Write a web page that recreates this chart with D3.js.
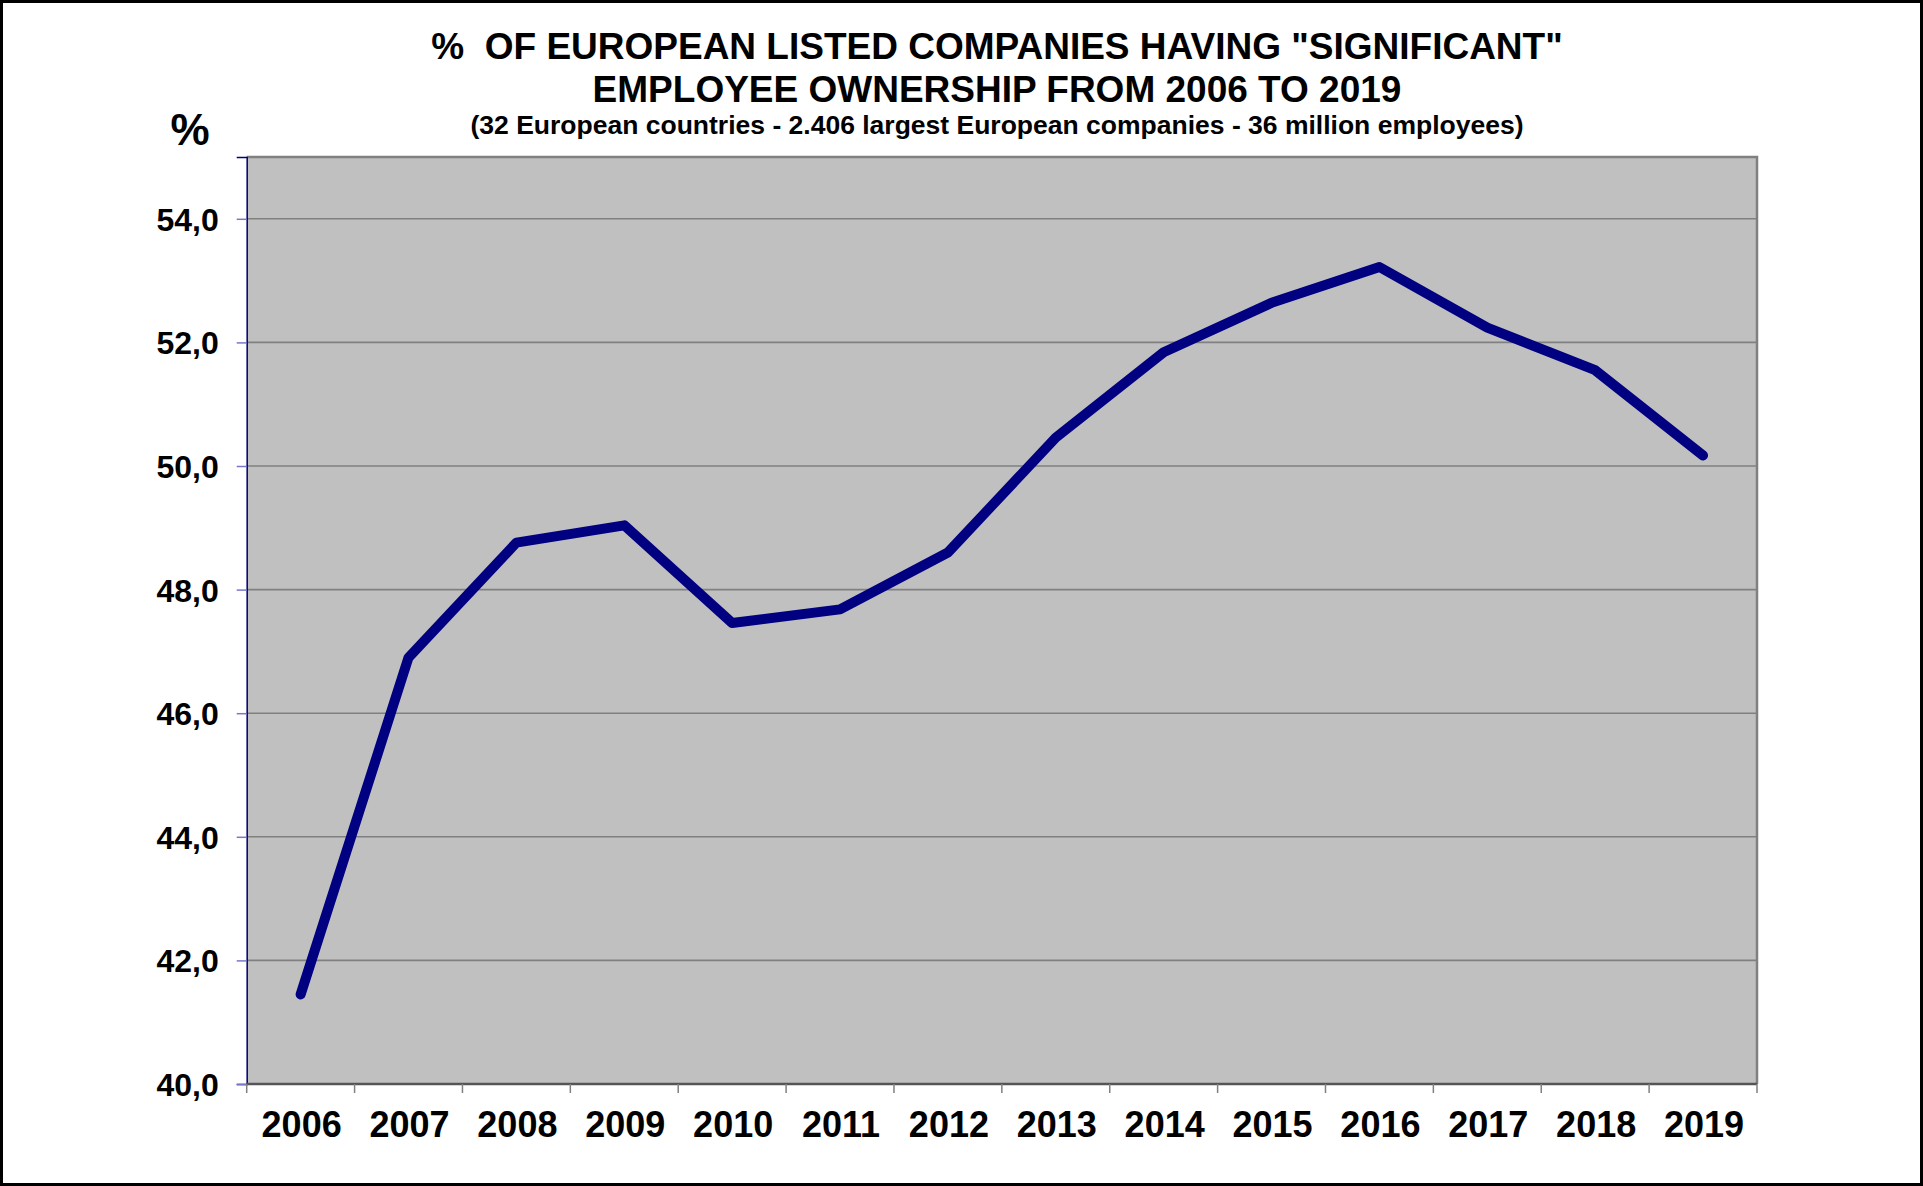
<!DOCTYPE html>
<html>
<head>
<meta charset="utf-8">
<script src="https://cdn.jsdelivr.net/npm/d3@7"></script>
<style>
  body { margin: 0; background: #fff; }
  svg text { font-family: Arial, "Liberation Sans", sans-serif; font-weight: bold; fill: #000; white-space: pre; }
</style>
</head>
<body>
<div class="grp"></div>
<script>
// data
var years = ['2006', '2007', '2008', '2009', '2010', '2011', '2012', '2013', '2014', '2015', '2016', '2017', '2018', '2019'];
var shares = [41.45, 46.9, 48.76, 49.04, 47.46, 47.68, 48.6, 50.46, 51.84, 52.64, 53.22, 52.24, 51.55, 50.17];
var yTicks = [40, 42, 44, 46, 48, 50, 52, 54];
var titleLines = ['%  OF EUROPEAN LISTED COMPANIES HAVING "SIGNIFICANT"', 'EMPLOYEE OWNERSHIP FROM 2006 TO 2019'];
var subtitle = '(32 European countries - 2.406 largest European companies - 36 million employees)';

var W = 1923, H = 1186;
var margin = {left: 246.7, right: W - 1757, top: 157, bottom: H - 1084};
var width = W - margin.left - margin.right,
    height = H - margin.top - margin.bottom;

var root = d3.select(".grp").append("svg")
    .attr("width", W)
    .attr("height", H);

// outer frame
root.append("rect")
    .attr("x", 1.5).attr("y", 1.5)
    .attr("width", W - 3).attr("height", H - 3)
    .attr("fill", "#fff").attr("stroke", "#000").attr("stroke-width", 3);

// titles
root.selectAll(".title").data(titleLines).enter().append("text")
    .attr("class", "title")
    .attr("x", 997)
    .attr("y", function (d, i) { return 59 + i * 42.5 })
    .attr("text-anchor", "middle")
    .style("font-size", "37px")
    .text(function (d) { return d });

root.append("text")
    .attr("x", 997).attr("y", 134)
    .attr("text-anchor", "middle")
    .style("font-size", "26.5px")
    .text(subtitle);

root.append("text")
    .attr("x", 190).attr("y", 145)
    .attr("text-anchor", "middle")
    .style("font-size", "44px")
    .text("%");

var svg = root.append("g")
    .attr("transform", "translate(" + margin.left + "," + margin.top + ")");

var x = d3.scaleBand().domain(years).range([0, width]).padding(0);
var y = d3.scaleLinear().domain([40, 55]).range([height, 0]);

// plot background
svg.append("rect")
    .attr("width", width).attr("height", height)
    .attr("fill", "#c0c0c0");

// gridlines
svg.append("g")
    .selectAll("line").data(yTicks.slice(1)).enter().append("line")
    .attr("x1", 0).attr("x2", width)
    .attr("y1", function (d) { return y(d) })
    .attr("y2", function (d) { return y(d) })
    .attr("stroke", "#808080").attr("stroke-width", 1.6);

// plot border top/right
svg.append("path")
    .attr("d", "M0,0H" + width + "V" + height)
    .attr("fill", "none").attr("stroke", "#808080").attr("stroke-width", 2.5);

// y axis
var yAxis = svg.append("g")
    .call(d3.axisLeft(y).tickValues(yTicks).tickSize(10).tickPadding(18)
        .tickFormat(function (d) { return d3.format(".1f")(d).replace(".", ",") }));
yAxis.select(".domain").attr("stroke", "#000080").attr("stroke-width", 1.5);
yAxis.selectAll(".tick line").attr("stroke", "#7777cc").attr("stroke-width", 1.5);
yAxis.selectAll(".tick text")
    .style("font-size", "32px")
    .attr("dy", "0.36em");

// x axis (ticks between categories)
var xAxis = svg.append("g")
    .attr("transform", "translate(0," + height + ")");
xAxis.append("line")
    .attr("x1", 0).attr("x2", width)
    .attr("stroke", "#555").attr("stroke-width", 2.5);
xAxis.selectAll(".xt").data(years.concat(["end"])).enter().append("line")
    .attr("class", "xt")
    .attr("x1", function (d, i) { return i * x.bandwidth() })
    .attr("x2", function (d, i) { return i * x.bandwidth() })
    .attr("y1", 0).attr("y2", 9)
    .attr("stroke", "#808080").attr("stroke-width", 1.5);
xAxis.selectAll(".xl").data(years).enter().append("text")
    .attr("class", "xl")
    .attr("x", function (d) { return x(d) + x.bandwidth() / 2 + 1 })
    .attr("y", 53)
    .attr("text-anchor", "middle")
    .style("font-size", "36px")
    .text(function (d) { return d });

// the line
var line = d3.line()
    .x(function (d, i) { return x(years[i]) + x.bandwidth() / 2 })
    .y(function (d) { return y(d) });

svg.append("path")
    .datum(shares)
    .attr("d", line)
    .attr("fill", "none")
    .attr("stroke", "#000080")
    .attr("stroke-width", 10)
    .attr("stroke-linecap", "round")
    .attr("stroke-linejoin", "round");
</script>
</body>
</html>
